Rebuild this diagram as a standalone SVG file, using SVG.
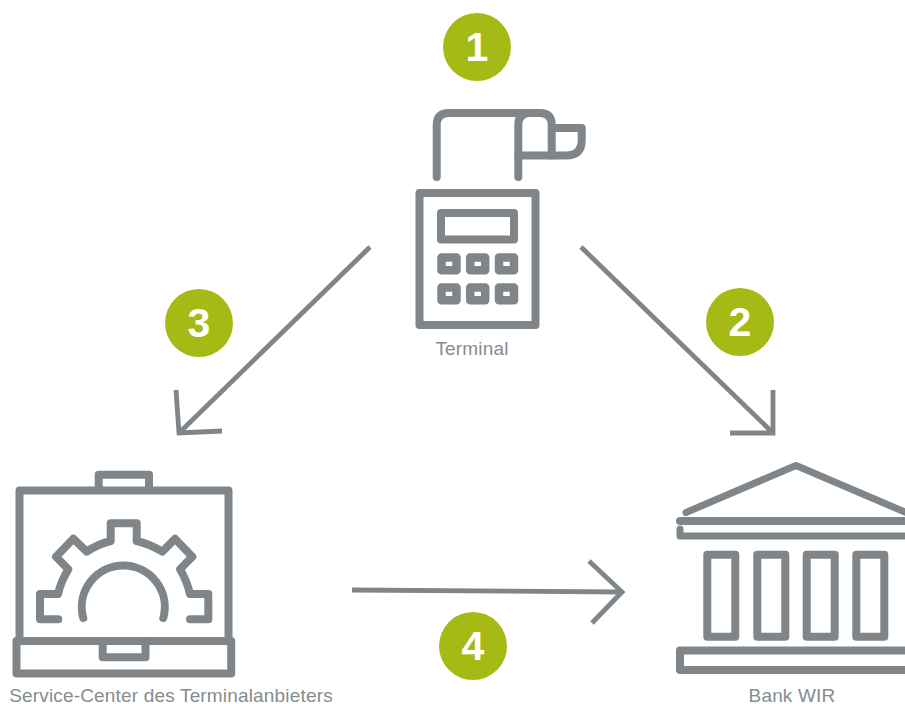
<svg xmlns="http://www.w3.org/2000/svg" width="905" height="704" viewBox="0 0 905 704">
<style>
.s{fill:none;stroke:#7f8588;stroke-width:8;stroke-linecap:round;stroke-linejoin:round}
.a{fill:none;stroke:#7f8588;stroke-width:4.8;stroke-linejoin:miter}
.c{fill:#a5ba14}
.n{font:bold 41px "Liberation Sans",Arial,sans-serif;fill:#fff;text-anchor:middle}
.l{font:19px "Liberation Sans",Arial,sans-serif;fill:#868c8f;text-anchor:middle;letter-spacing:.17px}
.k{stroke-width:8.5}
</style>
<rect width="905" height="704" fill="#fff"/>
<g id="connectors">
<path class="a" d="M370 247L179 433M176 390L179 433L222 431"/>
<path class="a" d="M581 247L773 433M773 390L773 433L730 433"/>
<path class="a" d="M352 590L622 592M589 561L622 592L592 623"/>
</g>
<g id="badge-1"><circle class="c" cx="477" cy="47" r="34"/><text class="n" x="477" y="61">1</text></g>
<g id="badge-2"><circle class="c" cx="740" cy="322" r="34"/><text class="n" x="740" y="336">2</text></g>
<g id="badge-3"><circle class="c" cx="199" cy="323" r="34"/><text class="n" x="199" y="337">3</text></g>
<g id="badge-4"><circle class="c" cx="473" cy="646" r="34"/><text class="n" x="473" y="660">4</text></g>
<g id="terminal">
<path class="s" d="M436.7 177V125Q436.7 113 449 113H540Q551.7 113 551.7 125V155.500H518.300V125Q518.300 113 530 113"/>
<path class="s" d="M518.300 155V177"/>
<path class="s" d="M553 128H581.700V140Q581.700 155.500 566 155.500H552"/>
<rect class="s" x="419.500" y="193" width="116" height="132"/>
<rect class="s" x="441" y="213" width="73" height="26.500"/>
<rect class="s k" x="441.500" y="257.500" width="15" height="12.700"/>
<rect class="s k" x="470.200" y="257.500" width="15" height="12.700"/>
<rect class="s k" x="499" y="257.500" width="15" height="12.700"/>
<rect class="s k" x="441.500" y="287.500" width="15" height="12.700"/>
<rect class="s k" x="470.200" y="287.500" width="15" height="12.700"/>
<rect class="s k" x="499" y="287.500" width="15" height="12.700"/>
<text class="l" x="472" y="354.500">Terminal</text>
</g>
<g id="service-center">
<path class="s" d="M98.700 488V474.700H149V488"/>
<path class="s" d="M19.500 638V490.500H228.500V638"/>
<rect class="s" x="16.500" y="641" width="214.700" height="32.500"/>
<path class="s" d="M102.700 643V657.300H145.500V643"/>
<path class="s" d="M58.300 619.300H40V594H58Q61 581 68.300 569.300L56 556.700L73.300 538.700L86.700 551.700Q98 544 110.700 541V523.300H136.700V541Q150 544 162.300 551.700L175 538.700L192.300 556.700L180 569.300Q187 581 190 594H208.300V619.300H190"/>
<path class="s" d="M83.300 618A41.500 41.500 0 1 1 163.300 618"/>
<text class="l" x="171" y="701.500">Service-Center des Terminalanbieters</text>
</g>
<g id="bank">
<path class="s" d="M686 512.500L796 465.500L906 512.500" style="stroke-width:7"/>
<path class="s" d="M680 521H920"/>
<path class="s" d="M680 529V536H920" style="stroke-width:7"/>
<rect class="s" x="707.300" y="554.700" width="28" height="82"/>
<rect class="s" x="757.300" y="554.700" width="28" height="82"/>
<rect class="s" x="806.700" y="554.700" width="28" height="82"/>
<rect class="s" x="856.300" y="554.700" width="28" height="82"/>
<rect class="s" x="680" y="650.600" width="260" height="19.400"/>
<text class="l" x="792" y="701.500">Bank WIR</text>
</g>
</svg>
